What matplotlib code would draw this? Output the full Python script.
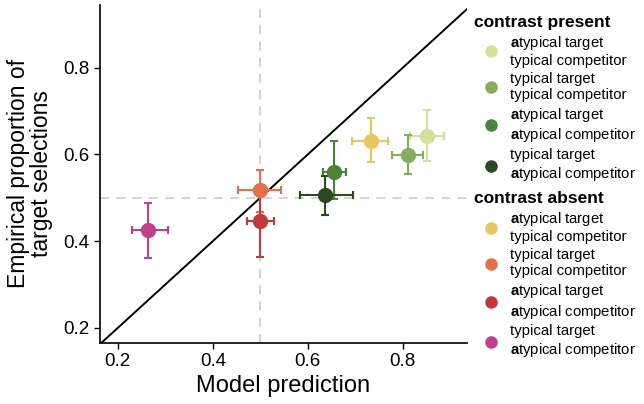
import matplotlib
matplotlib.use("Agg")
import matplotlib.pyplot as plt
from matplotlib.lines import Line2D

plt.rcParams['font.family'] = ['Liberation Sans', 'DejaVu Sans']
plt.rcParams['mathtext.fontset'] = 'custom'
plt.rcParams['mathtext.rm'] = 'Liberation Sans'
plt.rcParams['mathtext.bf'] = 'Liberation Sans:bold'

labels = [
    r"$\mathbf{a}$typical target" + "\ntypical competitor",
    "typical target\ntypical competitor",
    r"$\mathbf{a}$typical target" + "\n" + r"$\mathbf{a}$typical competitor",
    "typical target\n" + r"$\mathbf{a}$typical competitor",
]
groups = ["contrast present", "contrast absent"]

present_colors = ["#d3e09a", "#86ac5e", "#4a843a", "#2c4a22"]
present_x = [0.852, 0.810, 0.656, 0.637]
present_y = [0.642, 0.599, 0.560, 0.507]
present_xlo = [0.815, 0.777, 0.631, 0.583]
present_xhi = [0.886, 0.843, 0.681, 0.695]
present_ylo = [0.585, 0.555, 0.496, 0.461]
present_yhi = [0.702, 0.645, 0.630, 0.551]

absent_colors = ["#e8c763", "#e1714b", "#c3393b", "#c23f89"]
absent_x = [0.734, 0.499, 0.500, 0.264]
absent_y = [0.632, 0.519, 0.447, 0.425]
absent_xlo = [0.694, 0.454, 0.471, 0.229]
absent_xhi = [0.768, 0.543, 0.529, 0.305]
absent_ylo = [0.583, 0.468, 0.364, 0.361]
absent_yhi = [0.683, 0.565, 0.510, 0.487]

fig = plt.figure(figsize=(6.44, 4.04), dpi=100)
ax = fig.add_axes([0.155, 0.151, 0.570, 0.837])

xlim = (0.162, 0.935)
ylim = (0.165, 0.945)
ax.axvline(0.5, color="#d0d0d0", lw=1.3, ls=(0, (5, 4)), zorder=0)
ax.axhline(0.5, color="#d0d0d0", lw=1.3, ls=(0, (5, 4)), zorder=0)
ax.plot([0, 1], [0, 1], color="black", lw=1.4, zorder=1)

def draw(xs, ys, xlo, xhi, ylo, yhi, cols):
    for i in range(len(xs)):
        ax.errorbar(xs[i], ys[i],
                    xerr=[[xs[i] - xlo[i]], [xhi[i] - xs[i]]],
                    yerr=[[ys[i] - ylo[i]], [yhi[i] - ys[i]]],
                    fmt='o', color=cols[i], ms=10, elinewidth=1.5,
                    capsize=3, capthick=1.5, zorder=3)

draw(absent_x, absent_y, absent_xlo, absent_xhi, absent_ylo, absent_yhi, absent_colors)
draw(present_x, present_y, present_xlo, present_xhi, present_ylo, present_yhi, present_colors)

ax.set_xlim(*xlim)
ax.set_ylim(*ylim)
ax.set_xticks([0.2, 0.4, 0.6, 0.8])
ax.set_yticks([0.2, 0.4, 0.6, 0.8])
ax.set_xticklabels(["0.2", "0.4", "0.6", "0.8"])
ax.set_yticklabels(["0.2", "0.4", "0.6", "0.8"])
ax.tick_params(labelsize=13.5, length=4, width=1)
for s in ["top", "right"]:
    ax.spines[s].set_visible(False)
for s in ["left", "bottom"]:
    ax.spines[s].set_linewidth(1.2)
ax.set_xlabel("Model prediction", fontsize=17, labelpad=3)
ax.set_ylabel("Empirical proportion of\ntarget selections", fontsize=16.5,
              linespacing=1.05, labelpad=7)

def make_handles(cols):
    return [Line2D([], [], marker='o', ls='none', color=c, ms=8) for c in cols]

leg_kw = dict(loc="upper left", frameon=False, fontsize=10.7,
              title_fontproperties={'weight': 'bold', 'size': 12.5},
              alignment='left', labelspacing=0.25, handletextpad=0.15,
              handlelength=2.3, borderaxespad=0, borderpad=0)
leg1 = fig.legend(make_handles(present_colors), labels, title=groups[0],
                  bbox_to_anchor=(0.736, 0.962), **leg_kw)
leg2 = fig.legend(make_handles(absent_colors), labels, title=groups[1],
                  bbox_to_anchor=(0.736, 0.526), **leg_kw)
for leg in (leg1, leg2):
    for t in leg.get_texts():
        t.set_linespacing(1.2)

fig.savefig("out.png", dpi=100)
